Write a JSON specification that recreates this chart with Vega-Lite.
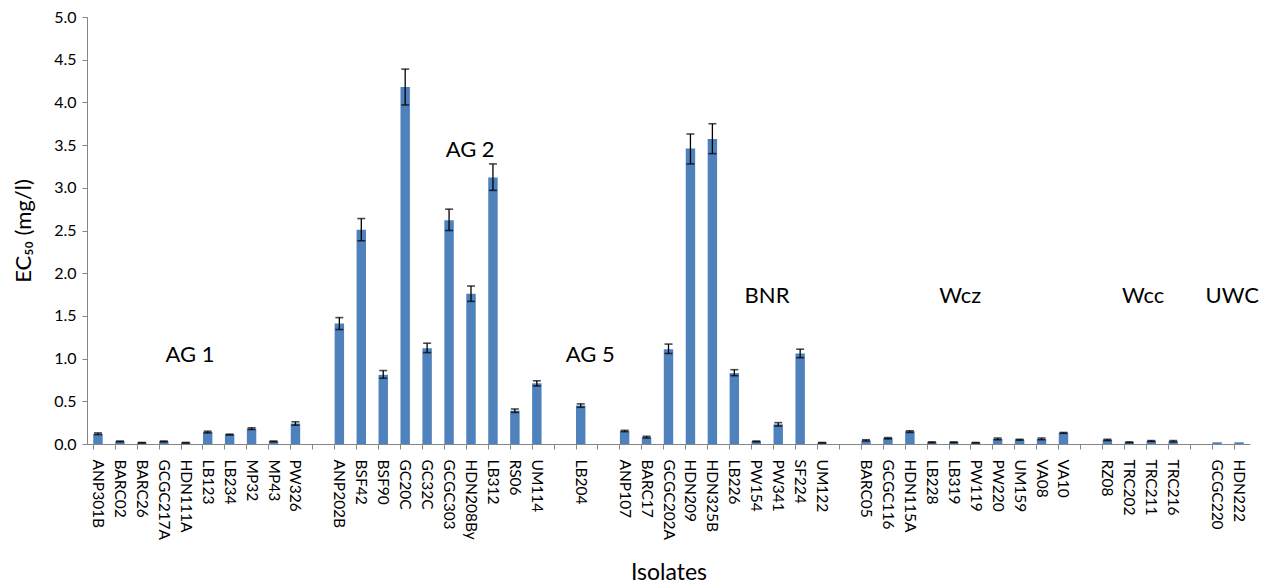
{
  "$schema": "https://vega.github.io/schema/vega-lite/v6.json",
  "autosize": {"type": "none"},
  "padding": {"left": 87, "top": 17, "right": 20, "bottom": 142},
  "width": 1163,
  "height": 427,
  "background": "white",
  "config": {"view": {"stroke": null}, "font": "Lato"},
  "datasets": {
    "bars": [
      {"isolate": "ANP301B", "value": 0.12, "lo": 0.11, "hi": 0.13},
      {"isolate": "BARC02", "value": 0.03, "lo": 0.025, "hi": 0.035},
      {"isolate": "BARC26", "value": 0.015, "lo": 0.012, "hi": 0.018},
      {"isolate": "GCGC217A", "value": 0.03, "lo": 0.025, "hi": 0.035},
      {"isolate": "HDN111A", "value": 0.015, "lo": 0.012, "hi": 0.018},
      {"isolate": "LB123", "value": 0.14, "lo": 0.13, "hi": 0.15},
      {"isolate": "LB234", "value": 0.11, "lo": 0.105, "hi": 0.115},
      {"isolate": "MP32", "value": 0.18, "lo": 0.17, "hi": 0.19},
      {"isolate": "MP43", "value": 0.03, "lo": 0.025, "hi": 0.035},
      {"isolate": "PW326", "value": 0.24, "lo": 0.22, "hi": 0.26},
      {"isolate": "ANP202B", "value": 1.41, "lo": 1.34, "hi": 1.48},
      {"isolate": "BSF42", "value": 2.51, "lo": 2.38, "hi": 2.64},
      {"isolate": "BSF90", "value": 0.81, "lo": 0.77, "hi": 0.86},
      {"isolate": "GC20C", "value": 4.18, "lo": 3.97, "hi": 4.39},
      {"isolate": "GC32C", "value": 1.12, "lo": 1.07, "hi": 1.18},
      {"isolate": "GCGC303", "value": 2.62, "lo": 2.5, "hi": 2.75},
      {"isolate": "HDN208By", "value": 1.76, "lo": 1.67, "hi": 1.85},
      {"isolate": "LB312", "value": 3.12, "lo": 2.97, "hi": 3.28},
      {"isolate": "RS06", "value": 0.39, "lo": 0.37, "hi": 0.41},
      {"isolate": "UM114", "value": 0.71, "lo": 0.68, "hi": 0.74},
      {"isolate": "LB204", "value": 0.45, "lo": 0.43, "hi": 0.47},
      {"isolate": "ANP107", "value": 0.15, "lo": 0.145, "hi": 0.16},
      {"isolate": "BARC17", "value": 0.08, "lo": 0.07, "hi": 0.09},
      {"isolate": "GCGC202A", "value": 1.11, "lo": 1.06, "hi": 1.17},
      {"isolate": "HDN209", "value": 3.46, "lo": 3.28, "hi": 3.63},
      {"isolate": "HDN325B", "value": 3.57, "lo": 3.4, "hi": 3.75},
      {"isolate": "LB226", "value": 0.83, "lo": 0.8, "hi": 0.87},
      {"isolate": "PW154", "value": 0.03, "lo": 0.025, "hi": 0.035},
      {"isolate": "PW341", "value": 0.23, "lo": 0.21, "hi": 0.25},
      {"isolate": "SF224", "value": 1.06, "lo": 1.01, "hi": 1.11},
      {"isolate": "UM122", "value": 0.015, "lo": 0.012, "hi": 0.018},
      {"isolate": "BARC05", "value": 0.04, "lo": 0.035, "hi": 0.05},
      {"isolate": "GCGC116", "value": 0.07, "lo": 0.06, "hi": 0.075},
      {"isolate": "HDN115A", "value": 0.15, "lo": 0.135, "hi": 0.155},
      {"isolate": "LB228", "value": 0.02, "lo": 0.015, "hi": 0.025},
      {"isolate": "LB319", "value": 0.02, "lo": 0.015, "hi": 0.025},
      {"isolate": "PW119", "value": 0.015, "lo": 0.012, "hi": 0.018},
      {"isolate": "PW220", "value": 0.06, "lo": 0.05, "hi": 0.07},
      {"isolate": "UM159", "value": 0.05, "lo": 0.045, "hi": 0.055},
      {"isolate": "VA08", "value": 0.06, "lo": 0.05, "hi": 0.07},
      {"isolate": "VA10", "value": 0.13, "lo": 0.125, "hi": 0.135},
      {"isolate": "RZ08", "value": 0.05, "lo": 0.04, "hi": 0.055},
      {"isolate": "TRC202", "value": 0.02, "lo": 0.015, "hi": 0.025},
      {"isolate": "TRC211", "value": 0.035, "lo": 0.03, "hi": 0.04},
      {"isolate": "TRC216", "value": 0.03, "lo": 0.025, "hi": 0.04},
      {"isolate": "GCGC220", "value": 0.02},
      {"isolate": "HDN222", "value": 0.02}
    ],
    "groups": [
      {"label": "AG 1", "pos": 4.69, "value": 1.04},
      {"label": "AG 2", "pos": 17.46, "value": 3.44},
      {"label": "AG 5", "pos": 22.93, "value": 1.04},
      {"label": "BNR", "pos": 30.99, "value": 1.73},
      {"label": "Wcz", "pos": 39.79, "value": 1.73},
      {"label": "Wcc", "pos": 48.13, "value": 1.73},
      {"label": "UWC", "pos": 52.19, "value": 1.73}
    ]
  },
  "resolve": {"scale": {"x": "independent"}, "axis": {"x": "independent"}},
  "layer": [
    {
      "data": {"name": "bars"},
      "encoding": {
        "x": {
          "field": "isolate",
          "type": "nominal",
          "scale": {
            "domain": ["ANP301B", "BARC02", "BARC26", "GCGC217A", "HDN111A", "LB123", "LB234", "MP32", "MP43", "PW326", "gap1",
                       "ANP202B", "BSF42", "BSF90", "GC20C", "GC32C", "GCGC303", "HDN208By", "LB312", "RS06", "UM114", "gap2",
                       "LB204", "gap3",
                       "ANP107", "BARC17", "GCGC202A", "HDN209", "HDN325B", "LB226", "PW154", "PW341", "SF224", "UM122", "gap4",
                       "BARC05", "GCGC116", "HDN115A", "LB228", "LB319", "PW119", "PW220", "UM159", "VA08", "VA10", "gap5",
                       "RZ08", "TRC202", "TRC211", "TRC216", "gap6",
                       "GCGC220", "HDN222"],
            "paddingInner": 0.57,
            "paddingOuter": 0.285
          },
          "axis": {
            "title": "Isolates",
            "titleFontSize": 23,
            "titleFontWeight": "normal",
            "titleColor": "black",
            "titlePadding": 22,
            "labelExpr": "slice(datum.label, 0, 3) == 'gap' ? '' : datum.label",
            "labelAngle": 90,
            "labelFontSize": 15.5,
            "labelColor": "black",
            "labelPadding": 10,
            "bandPosition": 0,
            "tickSize": 5,
            "tickColor": "#868686",
            "domainColor": "#868686",
            "labelOverlap": false
          }
        },
        "y": {
          "field": "value",
          "type": "quantitative",
          "scale": {"domain": [0, 5], "nice": false},
          "axis": {
            "title": "EC₅₀ (mg/l)",
            "titleFontSize": 22,
            "titleFontWeight": "normal",
            "titleColor": "black",
            "titlePadding": 18,
            "values": [0, 0.5, 1, 1.5, 2, 2.5, 3, 3.5, 4, 4.5, 5],
            "format": ".1f",
            "labelFontSize": 16,
            "labelColor": "black",
            "labelPadding": 6,
            "tickSize": 5,
            "tickColor": "#868686",
            "domainColor": "#868686",
            "grid": false
          }
        }
      },
      "layer": [
        {"mark": {"type": "bar", "color": "#4F81BD"}},
        {
          "mark": {"type": "rule", "color": "black", "strokeWidth": 1.3},
          "encoding": {"y": {"field": "lo", "type": "quantitative"}, "y2": {"field": "hi"}}
        },
        {
          "mark": {"type": "tick", "color": "black", "size": 8, "thickness": 1.6, "orient": "horizontal"},
          "encoding": {"y": {"field": "hi", "type": "quantitative"}}
        },
        {
          "mark": {"type": "tick", "color": "black", "size": 8, "thickness": 1.6, "orient": "horizontal"},
          "encoding": {"y": {"field": "lo", "type": "quantitative"}}
        }
      ]
    },
    {
      "data": {"name": "groups"},
      "mark": {"type": "text", "fontSize": 22, "color": "black", "align": "center", "baseline": "middle"},
      "encoding": {
        "x": {"field": "pos", "type": "quantitative", "scale": {"domain": [0, 53], "nice": false, "zero": false}, "axis": null},
        "y": {"field": "value", "type": "quantitative"},
        "text": {"field": "label"}
      }
    }
  ]
}
